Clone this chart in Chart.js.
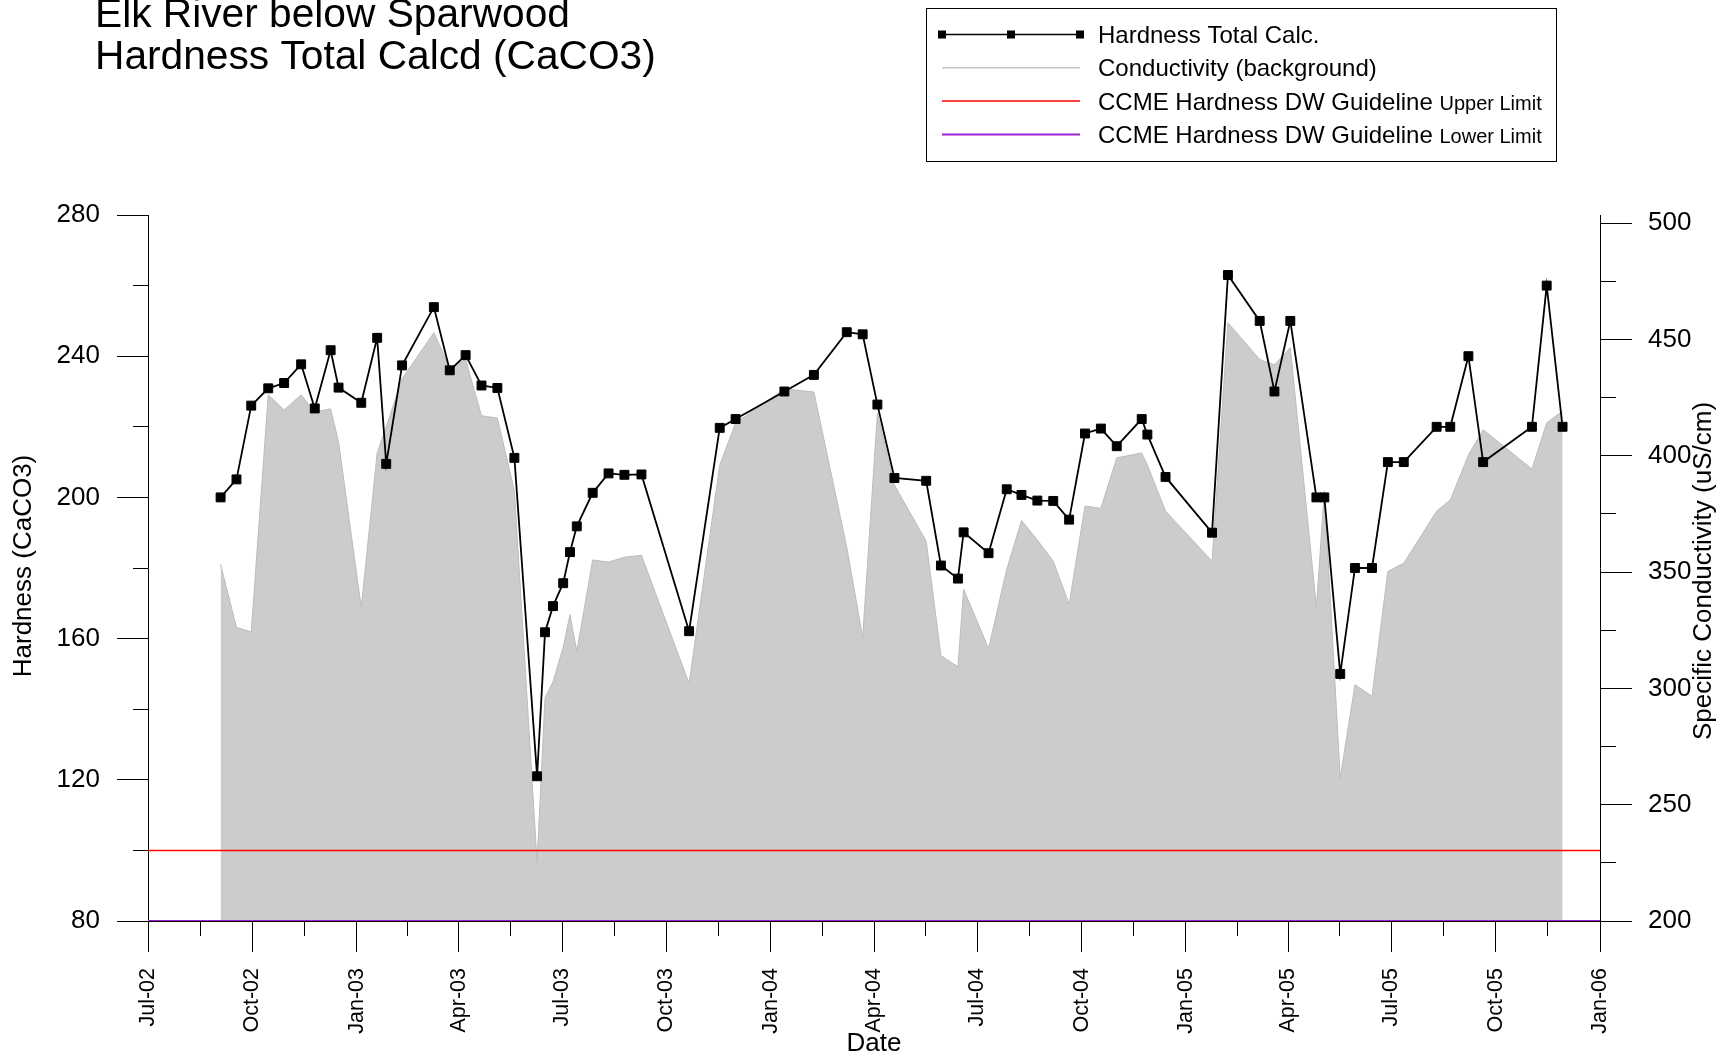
<!DOCTYPE html>
<html lang="en">
<head>
<meta charset="UTF-8">
<title>Elk River below Sparwood - Hardness Total Calcd (CaCO3)</title>
<script src="https://cdn.jsdelivr.net/npm/chart.js"></script>
<style>
  html, body { margin: 0; padding: 0; background: #fff; }
  canvas { display: block; }
</style>
</head>
<body>
<canvas id="chartCanvas" width="1732" height="1057"></canvas>
<script>
// sample dates
const sampleDates = [
  '2002-09-03', '2002-09-17', '2002-09-30', '2002-10-15', '2002-10-29', '2002-11-13', '2002-11-25', '2002-12-09', '2002-12-16',
  '2003-01-05', '2003-01-19', '2003-01-27', '2003-02-10', '2003-03-10', '2003-03-24', '2003-04-07', '2003-04-21', '2003-05-05', '2003-05-20',
  '2003-06-09', '2003-06-16', '2003-06-23', '2003-07-02', '2003-07-08', '2003-07-14', '2003-07-28', '2003-08-11', '2003-08-25', '2003-09-09',
  '2003-10-21', '2003-11-17', '2003-12-01',
  '2004-01-13', '2004-02-08', '2004-03-08', '2004-03-22', '2004-04-04', '2004-04-19', '2004-05-17', '2004-05-30', '2004-06-14', '2004-06-19',
  '2004-07-11', '2004-07-27', '2004-08-09', '2004-08-23', '2004-09-06', '2004-09-20', '2004-10-04', '2004-10-18', '2004-11-01', '2004-11-23', '2004-11-28', '2004-12-14',
  '2005-01-24', '2005-02-07', '2005-03-07', '2005-03-20', '2005-04-03', '2005-04-26', '2005-05-03', '2005-05-17', '2005-05-30', '2005-06-14',
  '2005-06-28', '2005-07-12', '2005-08-10', '2005-08-22', '2005-09-07', '2005-09-20', '2005-11-02', '2005-11-15', '2005-11-29'
];

// Hardness Total Calc. (mg/L CaCO3), left axis
const hardness = [
  200.0, 205.1, 226.0, 230.9, 232.4, 237.7, 225.2, 241.7, 231.1,
  226.8, 245.2, 209.5, 237.4, 253.9, 236.0, 240.3, 231.7, 231.0, 211.2,
  121.0, 161.8, 169.2, 175.7, 184.5, 191.8, 201.3, 206.8, 206.4, 206.5,
  162.1, 219.7, 222.2,
  230.0, 234.7, 246.8, 246.2, 226.3, 205.5, 204.7, 180.7, 177.0, 190.1,
  184.2, 202.3, 200.7, 199.1, 199.0, 193.7, 218.1, 219.5, 214.5, 222.2, 217.8, 205.8,
  190, 263, 250, 230, 250, 200, 200, 150, 180, 180,
  210, 210, 220, 220, 240, 210, 220, 260, 220
];

// Specific conductivity (uS/cm), right axis, drawn as grey background
const conductivity = [
  353.3, 326.2, 324.3, 426.2, 419.7, 426.2, 418.8, 420.2, 405.9,
  334.8, 401.2, 412.4, 433.1, 452.9, 437.9, 441.4, 417.2, 416.2, 384.8,
  225.3, 296.0, 302.9, 317.6, 331.7, 315.9, 355.2, 354.3, 356.4, 357.2,
  302.1, 396.0, 414.1,
  428.8, 427.4, 360.7, 321.9, 418.4, 387.4, 363.3, 314.1, 309.3, 342.6,
  317.1, 351.2, 372.2, 363.8, 354.7, 336.2, 378.4, 377.4, 399.1, 401.2, 396.0, 376.2,
  354.7, 457.2, 441.4, 439.1, 446.4, 334.8, 384.8, 261.6, 301.6, 296.6,
  350.3, 353.8, 376.2, 381.0, 400.3, 411.2, 394.3, 414.1, 419.3
];

// CCME drinking water guideline limits
const upperLimit = 100;
const lowerLimit = 80;

// axis ticks
const xTickDates = [
  '2002-07-01', '2002-10-01', '2003-01-01', '2003-04-01', '2003-07-01', '2003-10-01', '2004-01-01', '2004-04-01',
  '2004-07-01', '2004-10-01', '2005-01-01', '2005-04-01', '2005-07-01', '2005-10-01', '2006-01-01'
];
const xTickLabels = [
  'Jul-02', 'Oct-02', 'Jan-03', 'Apr-03', 'Jul-03', 'Oct-03', 'Jan-04', 'Apr-04',
  'Jul-04', 'Oct-04', 'Jan-05', 'Apr-05', 'Jul-05', 'Oct-05', 'Jan-06'
];
const leftTicks = [80, 100, 120, 140, 160, 180, 200, 220, 240, 260, 280];
const leftLabelled = [80, 120, 160, 200, 240, 280];
const rightTicks = [200, 225, 250, 275, 300, 325, 350, 375, 400, 425, 450, 475, 500];
const rightLabelled = [200, 250, 300, 350, 400, 450, 500];

const FONT = "'Liberation Sans', Arial, Helvetica, sans-serif";
Chart.defaults.font.family = FONT;
Chart.defaults.color = '#000';

const origin = Date.UTC(2002, 6, 1);
function toDay(s) {
    const [y, m, d] = s.split('-').map(Number);
    return (Date.UTC(y, m - 1, d) - origin) / 86400000;
}

const xMajor = xTickDates.map(toDay);
const xMinor = xMajor.slice(1).map((v, i) => (v + xMajor[i]) / 2);
const xMin = xMajor[0];
const xMax = xMajor[xMajor.length - 1];

function majorColor(c) {
    return c.tick && c.tick.major ? '#000' : 'rgba(0,0,0,0)';
}

function alignPx(p) {
    return Math.round(p - 0.5) + 0.5;
}

// title, legend, axis titles and the short (minor) ticks
const decorPlugin = {
    id: 'decor',
    afterDraw(chart) {
        const ctx = chart.ctx;
        ctx.save();

        // minor ticks
        ctx.strokeStyle = '#000';
        ctx.lineWidth = 1;
        const sx = chart.scales.x, sy = chart.scales.y, sy1 = chart.scales.y1;
        ctx.beginPath();
        sx.ticks.forEach(t => {
            if (t.major) return;
            const p = alignPx(sx.getPixelForValue(t.value));
            ctx.moveTo(p, sx.top);
            ctx.lineTo(p, sx.top + 15);
        });
        sy.ticks.forEach(t => {
            if (t.major) return;
            const p = alignPx(sy.getPixelForValue(t.value));
            ctx.moveTo(sy.right, p);
            ctx.lineTo(sy.right - 15, p);
        });
        sy1.ticks.forEach(t => {
            if (t.major) return;
            const p = alignPx(sy1.getPixelForValue(t.value));
            ctx.moveTo(sy1.left, p);
            ctx.lineTo(sy1.left + 16, p);
        });
        ctx.stroke();

        // title
        ctx.fillStyle = '#000';
        ctx.textAlign = 'left';
        ctx.textBaseline = 'alphabetic';
        ctx.font = '40.7px ' + FONT;
        ctx.fillText('Elk River below Sparwood', 95, 27);
        ctx.fillText('Hardness Total Calcd (CaCO3)', 95, 68.5);

        // axis titles
        ctx.font = '26px ' + FONT;
        ctx.textAlign = 'center';
        ctx.textBaseline = 'middle';
        ctx.save();
        ctx.translate(24, 566);
        ctx.rotate(-Math.PI / 2);
        ctx.fillText('Hardness (CaCO3)', 0, 0);
        ctx.restore();
        ctx.save();
        ctx.translate(1704, 571);
        ctx.rotate(-Math.PI / 2);
        ctx.fillText('Specific Conductivity (uS/cm)', 0, 0);
        ctx.restore();
        ctx.textBaseline = 'alphabetic';
        ctx.fillText('Date', (sx.left + sx.right) / 2, 1051);

        // legend
        ctx.lineWidth = 1;
        ctx.strokeStyle = '#000';
        ctx.strokeRect(926.5, 8.5, 630, 153);
        const rows = [0, 3, 1, 2].map(i => chart.data.datasets[i]);
        rows.forEach((ds, r) => {
            const y = 34.5 + r * 33.3;
            ctx.strokeStyle = ds.legendColor || ds.borderColor;
            ctx.lineWidth = ds.legendWidth || ds.borderWidth;
            ctx.beginPath();
            ctx.moveTo(942, y);
            ctx.lineTo(1080, y);
            ctx.stroke();
            if (ds.pointRadius) {
                ctx.fillStyle = '#000';
                [942, 1011, 1080].forEach(mx => ctx.fillRect(mx - 4, y - 4, 8, 8));
            }
            ctx.fillStyle = '#000';
            ctx.textAlign = 'left';
            ctx.font = '24px ' + FONT;
            ctx.fillText(ds.mainLabel, 1098, y + 8.6);
            if (ds.subLabel) {
                const w = ctx.measureText(ds.mainLabel + ' ').width;
                ctx.font = '20px ' + FONT;
                ctx.fillText(ds.subLabel, 1098 + w, y + 8.6);
            }
        });

        ctx.restore();
    }
};

const ctx = document.getElementById('chartCanvas').getContext('2d');

new Chart(ctx, {
    type: 'line',
    data: {
        datasets: [
            {
                label: 'Hardness Total Calc.',
                mainLabel: 'Hardness Total Calc.',
                legendWidth: 1.5,
                data: sampleDates.map((d, i) => ({ x: toDay(d), y: hardness[i] })),
                yAxisID: 'y',
                borderColor: '#000',
                backgroundColor: '#000',
                borderWidth: 1.8,
                pointStyle: 'rect',
                pointRadius: 6.3,
                pointBorderWidth: 1,
                pointHoverRadius: 6.3,
                tension: 0,
                fill: false
            },
            {
                label: 'CCME Hardness DW Guideline Upper Limit',
                mainLabel: 'CCME Hardness DW Guideline',
                subLabel: 'Upper Limit',
                data: [{ x: xMin, y: upperLimit }, { x: xMax, y: upperLimit }],
                yAxisID: 'y',
                borderColor: '#ff0000',
                borderWidth: 1.5,
                pointRadius: 0,
                fill: false
            },
            {
                label: 'CCME Hardness DW Guideline Lower Limit',
                mainLabel: 'CCME Hardness DW Guideline',
                subLabel: 'Lower Limit',
                data: [{ x: xMin, y: lowerLimit }, { x: xMax, y: lowerLimit }],
                yAxisID: 'y',
                borderColor: '#9d22d4',
                borderWidth: 2,
                pointRadius: 0,
                fill: false
            },
            {
                label: 'Conductivity (background)',
                mainLabel: 'Conductivity (background)',
                legendColor: '#c8c8c8',
                legendWidth: 1.5,
                data: sampleDates.map((d, i) => ({ x: toDay(d), y: conductivity[i] })),
                yAxisID: 'y1',
                borderColor: '#bcbcbc',
                borderWidth: 1,
                backgroundColor: '#cccccc',
                pointRadius: 0,
                tension: 0,
                fill: 'start'
            }
        ]
    },
    options: {
        responsive: false,
        animation: false,
        devicePixelRatio: 1,
        events: [],
        layout: { padding: { top: 215, left: 0, right: 0, bottom: 0 } },
        plugins: {
            legend: { display: false },
            title: { display: false },
            tooltip: { enabled: false }
        },
        scales: {
            x: {
                type: 'linear',
                position: 'bottom',
                min: xMin,
                max: xMax,
                afterBuildTicks: s => {
                    s.ticks = xMajor.map(v => ({ value: v, major: true }))
                        .concat(xMinor.map(v => ({ value: v, major: false })))
                        .sort((a, b) => a.value - b.value);
                },
                afterFit: s => { s.height = 136; },
                grid: { drawOnChartArea: false, drawTicks: true, tickLength: 31, tickWidth: 1, tickColor: majorColor },
                border: { display: true, color: '#000', width: 1 },
                ticks: {
                    autoSkip: false,
                    minRotation: 90,
                    maxRotation: 90,
                    padding: 16,
                    color: '#000',
                    font: { size: 21.5 },
                    callback: v => {
                        const i = xMajor.indexOf(v);
                        return i >= 0 ? xTickLabels[i] : '';
                    }
                }
            },
            y: {
                type: 'linear',
                position: 'left',
                min: 80,
                max: 280,
                afterBuildTicks: s => {
                    s.ticks = leftTicks.map(v => ({ value: v, major: leftLabelled.includes(v) }));
                },
                afterFit: s => { s.width = 148; },
                grid: { drawOnChartArea: false, drawTicks: true, tickLength: 31, tickWidth: 1, tickColor: majorColor },
                border: { display: true, color: '#000', width: 1 },
                ticks: {
                    padding: 17,
                    color: '#000',
                    font: { size: 26 },
                    callback: v => leftLabelled.includes(v) ? String(v) : ''
                }
            },
            y1: {
                type: 'linear',
                position: 'right',
                min: 200,
                max: 503.5,
                afterBuildTicks: s => {
                    s.ticks = rightTicks.map(v => ({ value: v, major: rightLabelled.includes(v) }));
                },
                afterFit: s => { s.width = 132; },
                grid: { drawOnChartArea: false, drawTicks: true, tickLength: 32, tickWidth: 1, tickColor: majorColor },
                border: { display: true, color: '#000', width: 1 },
                ticks: {
                    padding: 16,
                    color: '#000',
                    font: { size: 26 },
                    callback: v => rightLabelled.includes(v) ? String(v) : ''
                }
            }
        }
    },
    plugins: [decorPlugin]
});
</script>
</body>
</html>
